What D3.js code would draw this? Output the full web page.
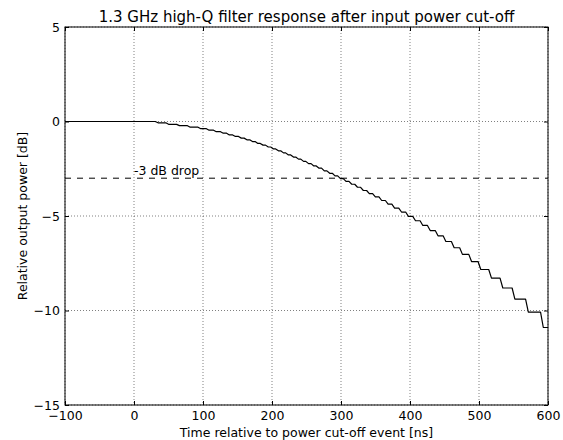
<!DOCTYPE html>
<html>
<head>
<meta charset="utf-8">
<script src="https://cdn.jsdelivr.net/npm/d3@7"></script>
<style>
  body { margin: 0; background: #fff; }
  text { font-family: "DejaVu Sans", sans-serif; fill: #000; }
</style>
</head>
<body>
<svg id="chart" width="563" height="440"></svg>
<script>
// tick values
var xTicks = [-100, 0, 100, 200, 300, 400, 500, 600];
var yTicks = [5, 0, -5, -10, -15];

// staircase of the measured response: level held between drops [dB]
var levels = [0.00, -0.07, -0.15, -0.22, -0.30, -0.38, -0.46, -0.54, -0.62, -0.71,
              -0.79, -0.88, -0.97, -1.06, -1.16, -1.25, -1.35, -1.45, -1.55, -1.66,
              -1.77, -1.88, -1.99, -2.11, -2.23, -2.35, -2.47, -2.61, -2.74, -2.88,
              -3.02, -3.17, -3.32, -3.48, -3.65, -3.82, -3.99, -4.18, -4.37, -4.58,
              -4.79, -5.02, -5.25, -5.50, -5.77, -6.05, -6.35, -6.68, -7.03, -7.41,
              -7.83, -8.29, -8.81, -9.40, -10.09, -10.90];
// time of each drop to the next level [ns]
var dropTimes = [32.8, 48.1, 63.8, 79.5, 94.8, 106.9, 117.3, 127.4, 136.2, 145.0,
                 153.5, 161.6, 169.7, 177.5, 185.0, 192.6, 200.1, 207.3, 214.6, 221.8,
                 229.1, 236.4, 243.7, 251.0, 258.6, 266.2, 273.8, 281.6, 289.4, 297.2,
                 305.3, 313.6, 321.9, 330.4, 339.1, 347.8, 357.0, 366.3, 375.7, 385.7,
                 395.7, 406.0, 416.6, 427.3, 438.6, 450.0, 462.0, 474.0, 487.2, 500.6,
                 516.1, 532.5, 550.0, 569.5, 591.2];
var tStart = -100, tEnd = 600;
var dropLevel = -3;

var svg = d3.select("#chart");
var margin = {left: 65, right: 15, top: 27, bottom: 35};
var width = 563 - margin.left - margin.right;
var height = 440 - margin.top - margin.bottom;

var x = d3.scaleLinear().domain([-100, 600]).range([0, width]);
var y = d3.scaleLinear().domain([-15, 5]).range([height, 0]);

svg.append("rect").attr("width", 563).attr("height", 440).attr("fill", "#fff");

var g = svg.append("g")
           .attr("transform", "translate(" + margin.left + "," + margin.top + ")");

// dotted grid
g.append("g").selectAll("line")
  .data(xTicks).enter().append("line")
    .attr("x1", d => x(d)).attr("x2", d => x(d))
    .attr("y1", 0).attr("y2", height)
    .style("stroke", "#000").style("stroke-width", 0.5)
    .style("stroke-dasharray", "1,2");
g.append("g").selectAll("line")
  .data(yTicks).enter().append("line")
    .attr("x1", 0).attr("x2", width)
    .attr("y1", d => y(d)).attr("y2", d => y(d))
    .style("stroke", "#000").style("stroke-width", 0.5)
    .style("stroke-dasharray", "1,2");

// build the staircase points (short slanted riser at each drop)
var ramp = 2;
var pts = [[tStart, levels[0]]];
dropTimes.forEach(function(t, i) {
  pts.push([t - ramp, levels[i]]);
  pts.push([t + ramp, levels[i + 1]]);
});
pts.push([tEnd, levels[levels.length - 1]]);

var line = d3.line().x(d => x(d[0])).y(d => y(d[1]));

g.append("path")
  .datum(pts)
  .attr("d", line)
  .style("fill", "none")
  .style("stroke", "#000")
  .style("stroke-width", 1.2)
  .style("stroke-linejoin", "round");

// -3 dB reference
g.append("line")
  .attr("x1", x(tStart)).attr("x2", x(tEnd))
  .attr("y1", y(dropLevel)).attr("y2", y(dropLevel))
  .style("stroke", "#000").style("stroke-width", 1)
  .style("stroke-dasharray", "6,6");

g.append("text")
  .attr("x", x(0))
  .attr("y", y(dropLevel) - 3)
  .style("font-size", "12.5px")
  .text("-3 dB drop");

// axes with inward ticks on all four sides
var fmt = d3.format("");
var xBottom = d3.axisBottom(x).tickValues(xTicks).tickSize(-4).tickPadding(6)
                .tickFormat(d => fmt(d).replace("-", "\u2212"));
var yLeft = d3.axisLeft(y).tickValues(yTicks).tickSize(-4).tickPadding(5)
                .tickFormat(d => fmt(d).replace("-", "\u2212"));
var xTop = d3.axisTop(x).tickValues(xTicks).tickSize(-4).tickFormat("");
var yRight = d3.axisRight(y).tickValues(yTicks).tickSize(-4).tickFormat("");

var ax = g.append("g").attr("transform", "translate(0," + height + ")").call(xBottom);
var ay = g.append("g").call(yLeft);
var at = g.append("g").call(xTop);
var ar = g.append("g").attr("transform", "translate(" + width + ",0)").call(yRight);

[ax, ay, at, ar].forEach(function(a) {
  a.select(".domain").remove();
  a.selectAll("line").style("stroke", "#000");
  a.selectAll("text").style("font-size", "12.5px").style("font-family", "DejaVu Sans, sans-serif");
});

g.append("rect")
  .attr("width", width).attr("height", height)
  .style("fill", "none").style("stroke", "#000").style("stroke-width", 1);

// labels
svg.append("text")
  .attr("x", margin.left + width / 2)
  .attr("y", 22)
  .attr("text-anchor", "middle")
  .style("font-size", "15px")
  .text("1.3 GHz high-Q filter response after input power cut-off");

svg.append("text")
  .attr("x", margin.left + width / 2)
  .attr("y", 437)
  .attr("text-anchor", "middle")
  .style("font-size", "12.5px")
  .text("Time relative to power cut-off event [ns]");

svg.append("text")
  .attr("transform", "translate(27," + (margin.top + height / 2) + ") rotate(-90)")
  .attr("text-anchor", "middle")
  .style("font-size", "12.5px")
  .text("Relative output power [dB]");
</script>
</body>
</html>
